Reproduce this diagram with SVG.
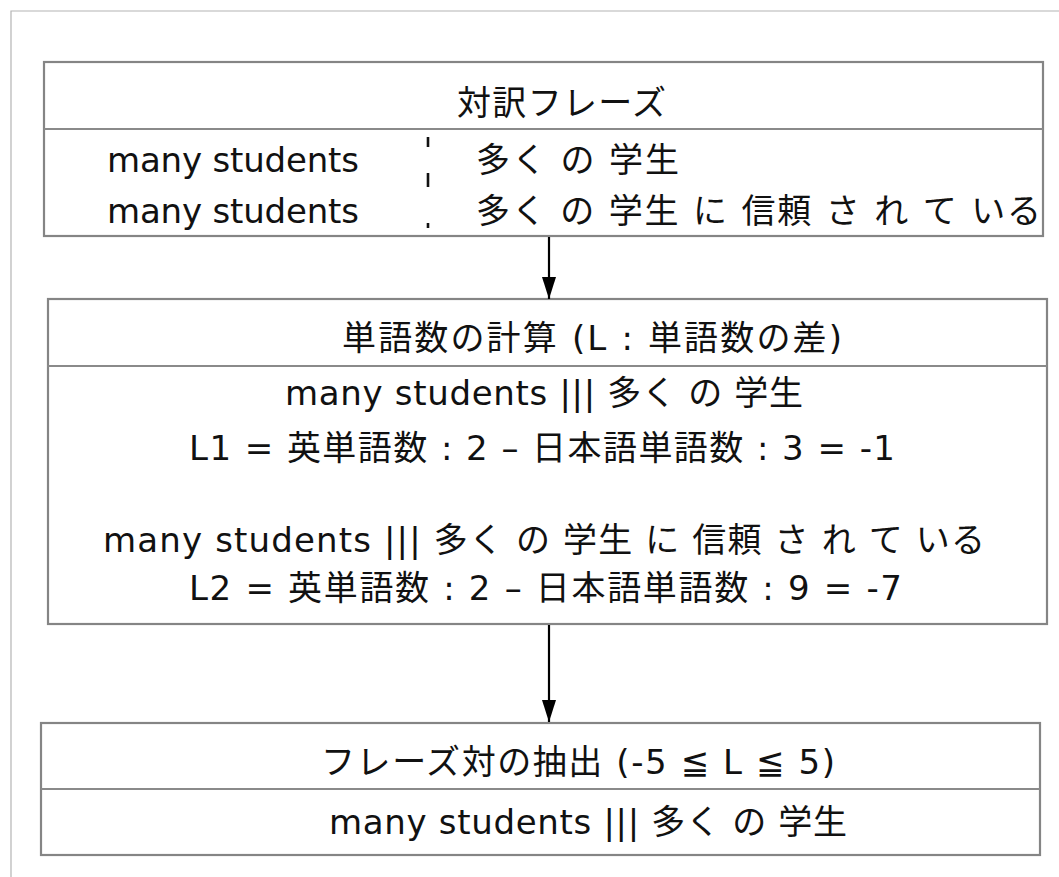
<svg xmlns="http://www.w3.org/2000/svg" width="1059" height="877" viewBox="0 0 1059 877">
<defs>
<style>
.frame{fill:none;stroke:#b4b4b4;stroke-width:1.2}
.box{fill:#fff;stroke:#858585;stroke-width:2.2}
.div{stroke:#8a8a8a;stroke-width:2.2}
.t{font-family:"DejaVu Sans","Noto Sans CJK JP",sans-serif;font-size:34px;fill:#111}
.conn{stroke:#000;stroke-width:2.2;fill:none}
</style>
<marker id="arr" viewBox="0 0 22 14" refX="22" refY="7" markerWidth="22" markerHeight="14" markerUnits="userSpaceOnUse" orient="auto">
<path d="M0,0 L22,7 L0,14 Z" fill="#000"/>
</marker>
</defs>
<rect width="1059" height="877" fill="#fff"/>
<path class="frame" d="M11,877 V11 H1059"/>

<g id="node-pairs">
<rect class="box" x="44" y="62" width="999" height="174"/>
<line class="div" x1="44" y1="129" x2="1043" y2="129"/>
<line x1="428" y1="137" x2="428" y2="228" stroke="#111" stroke-width="2.6" stroke-dasharray="10 26 14 36 5 100"/>
<text class="t" x="457" y="115" textLength="209" lengthAdjust="spacing">対訳フレーズ</text>
<text class="t" x="107" y="172" textLength="252" lengthAdjust="spacing">many students</text>
<text class="t" x="476" y="172" textLength="203" lengthAdjust="spacing">多く の 学生</text>
<text class="t" x="107" y="223" textLength="252" lengthAdjust="spacing">many students</text>
<text class="t" x="476" y="223" textLength="565" lengthAdjust="spacing">多く の 学生 に 信頼 さ れ て いる</text>
</g>

<g id="node-count">
<rect class="box" x="48" y="299" width="999" height="325"/>
<line class="div" x1="47" y1="366" x2="1047" y2="366"/>
<text class="t" x="342" y="350" textLength="500" lengthAdjust="spacing">単語数の計算 (L : 単語数の差)</text>
<text class="t" x="285" y="405" textLength="518" lengthAdjust="spacing">many students ||| 多く の 学生</text>
<text class="t" x="189" y="460" textLength="706" lengthAdjust="spacing">L1 = 英単語数 : 2 – 日本語単語数 : 3 = -1</text>
<text class="t" x="103" y="552" textLength="882" lengthAdjust="spacing">many students ||| 多く の 学生 に 信頼 さ れ て いる</text>
<text class="t" x="189" y="600" textLength="713" lengthAdjust="spacing">L2 = 英単語数 : 2 – 日本語単語数 : 9 = -7</text>
</g>

<g id="node-extract">
<rect class="box" x="41" y="723" width="999" height="132"/>
<line class="div" x1="41" y1="789" x2="1040" y2="789"/>
<text class="t" x="321" y="774" textLength="514" lengthAdjust="spacing">フレーズ対の抽出 (-5 ≦ L ≦ 5)</text>
<text class="t" x="329" y="834" textLength="518" lengthAdjust="spacing">many students ||| 多く の 学生</text>
</g>

<g id="connectors">
<line class="conn" x1="549" y1="237" x2="549" y2="299" marker-end="url(#arr)"/>
<line class="conn" x1="549" y1="625" x2="549" y2="722" marker-end="url(#arr)"/>
</g>
</svg>
